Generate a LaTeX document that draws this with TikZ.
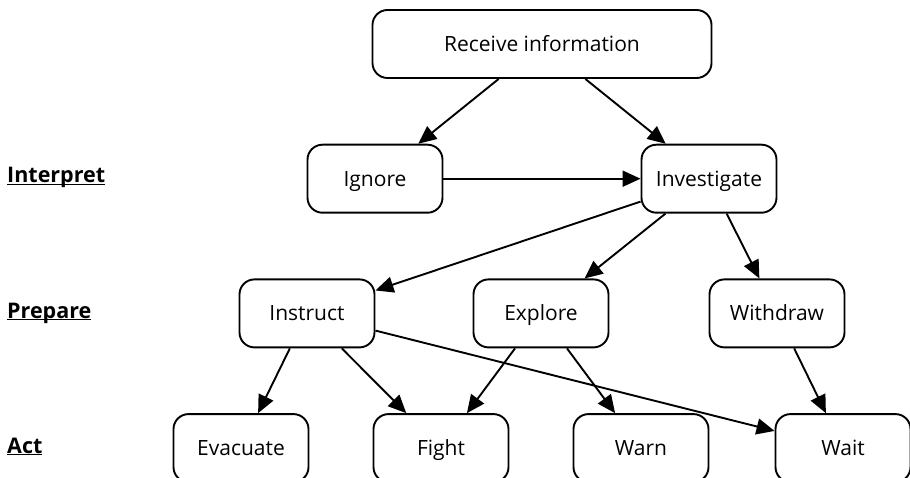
\documentclass[tikz,border=0pt]{standalone}
\usepackage{fontspec}
\setmainfont{Open Sans}
\usepackage{tikz}
\usetikzlibrary{arrows.meta,positioning}

\newcommand{\stagename}[1]{\underline{\smash{\textbf{#1}}}}

\begin{document}
\begin{tikzpicture}[node distance={134.7pt},
  box/.style={draw, line width=1.9pt, rounded corners=15pt, minimum width=135pt, minimum height=68pt, text height=15pt, text depth=0pt, font=\fontsize{21}{25}\selectfont},
  stage/.style={anchor=base west, inner sep=0pt, font=\fontsize{21.5}{25}\selectfont},
  flow/.style={-{Triangle[length=18pt,width=16pt]}, line width=1.9pt}]
\useasboundingbox (0,0) rectangle (910pt,-478pt);

\node[box, minimum width=339pt] (receive) at (542pt,-44pt) {Receive information};
\node[box] (ignore) [below of=receive, xshift=-167pt] {Ignore};
\node[box] (investigate) [below of=receive, xshift=167pt] {Investigate};
\node[box] (explore) [below of=ignore, xshift=166pt] {Explore};
\node[box] (instruct) [left of=explore, node distance=234pt] {Instruct};
\node[box] (withdraw) [right of=explore, node distance=236pt] {Withdraw};
\node[box] (fight) [below of=explore, xshift=-100pt] {Fight};
\node[box] (warn) [below of=explore, xshift=100pt] {Warn};
\node[box] (evacuate) [left of=fight, node distance=200pt] {Evacuate};
\node[box] (wait) [right of=warn, node distance=202pt] {Wait};

\node[stage] (interpret) at (7pt,-183pt) {\stagename{Interpret}};
\node[stage] (prepare) at (7pt,-318pt) {\stagename{Prepare}};
\node[stage] (act) at (7pt,-453pt) {\stagename{Act}};

\draw[flow] (receive) -- (ignore); \draw[flow] (receive) -- (investigate);
\draw[flow] (ignore) -- (investigate);
\draw[flow] (investigate) -- (instruct); \draw[flow] (investigate) -- (explore); \draw[flow] (investigate) -- (withdraw);
\draw[flow] (instruct) -- (evacuate); \draw[flow] (instruct) -- (fight); \draw[flow] (instruct) -- (wait);
\draw[flow] (explore) -- (fight); \draw[flow] (explore) -- (warn);
\draw[flow] (withdraw) -- (wait);

\end{tikzpicture}
\end{document}
